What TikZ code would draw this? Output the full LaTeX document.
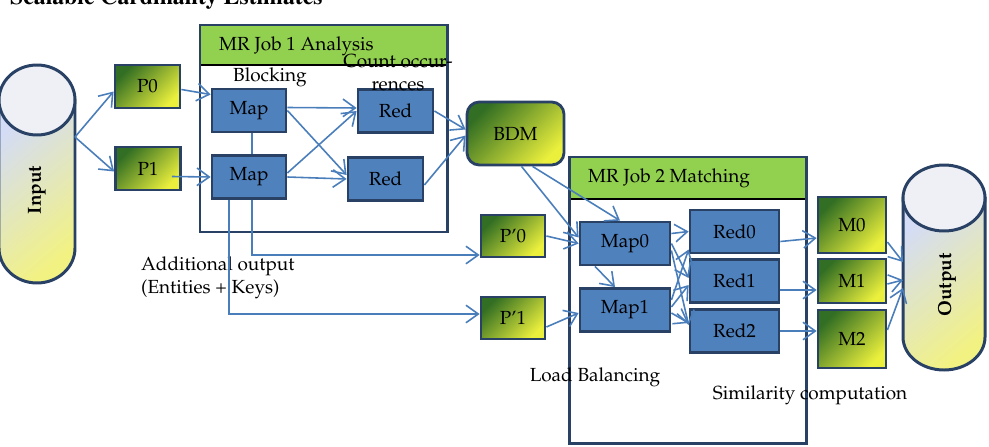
\documentclass[tikz,border=0pt]{standalone}
\usepackage[T1]{fontenc}
\usepackage{mathpazo}
\usetikzlibrary{arrows.meta,calc}

\definecolor{mrblue}{RGB}{79,129,189}
\definecolor{mrborder}{RGB}{40,65,100}
\definecolor{flowblue}{RGB}{74,126,187}
\definecolor{jobgreen}{RGB}{146,208,80}
\definecolor{pdark}{RGB}{50,110,35}
\definecolor{pmid}{RGB}{95,145,45}
\definecolor{plight}{RGB}{235,240,60}
\definecolor{cylbody}{RGB}{212,220,246}
\definecolor{cyltop}{RGB}{238,240,245}
\definecolor{cylyellow}{RGB}{242,242,130}

\tikzset{
  mrbox/.style={draw=mrborder, line width=1.6pt, fill=mrblue, inner sep=0pt,
    minimum width=1.48cm, minimum height=0.86cm},
  partbox/.style={draw=mrborder, line width=1.6pt, inner sep=0pt,
    top color=pdark, middle color=pmid, bottom color=plight, shading angle=45,
    minimum width=1.3cm, minimum height=0.86cm},
  jobframe/.style={draw=mrborder, line width=1.7pt},
  jobhead/.style={fill=jobgreen, draw=black, line width=1pt},
  cylline/.style={draw=mrborder, line width=1.7pt},
  cylfill/.style={top color=cylbody, middle color=cylbody, bottom color=cylyellow, shading angle=40},
  flow/.style={draw=flowblue, line width=0.9pt, -{Straight Barb[length=7pt,width=10pt]}},
  flowline/.style={draw=flowblue, line width=0.9pt},
}

\begin{document}
\begin{tikzpicture}[x=0.02cm, y=0.02cm, font=\fontsize{10.8}{13}\selectfont]
  \useasboundingbox (0,0) rectangle (989,-446);

  % title, cut by the top edge
  \node[anchor=base west, font=\fontfamily{ptm}\bfseries\fontsize{13.5}{16}\selectfont] (title) at (4,-5) {Scalable Cardinality Estimates};

  % input store
  \draw[cylline, cylfill]
    (-1,-100) -- (-1,-248) arc (180:360:38 and 35) -- (75,-100) -- cycle;
  \draw[cylline, fill=cyltop] (37,-100) ellipse (38 and 35);
  \node[rotate=90, font=\bfseries\fontsize{10.8}{13}\selectfont] (input) at (37,-190) {Input};
  \coordinate (inR) at (75,-137);

  % output store
  \draw[cylline, cylfill]
    (903,-198) -- (903,-337) arc (180:360:41 and 33) -- (985,-198) -- cycle;
  \draw[cylline, fill=cyltop] (944,-198) ellipse (41 and 33);
  \node[rotate=90, font=\bfseries\fontsize{10.8}{13}\selectfont] (output) at (947,-285) {Output};
  \coordinate (outA) at (903,-262);
  \coordinate (outB) at (903,-280);
  \coordinate (outC) at (903,-288);

  % job 1
  \draw[jobhead] (200,-25) rectangle (447,-65);
  \draw[jobframe] (200,-25) rectangle (447,-232);
  \node[anchor=west] (job1) at (213,-46) {MR Job 1 Analysis};

  % job 2
  \draw[jobhead] (569,-157) rectangle (806,-199);
  \draw[jobframe] (569,-157) rectangle (806,-443);
  \node[anchor=west] (job2) at (582,-178) {MR Job 2 Matching};

  % partitions
  \node[partbox] (p0) at (147.5,-86.5) {P0};
  \node[partbox] (p1) at (148,-168.5) {P1};
  \node[partbox, rounded corners=7pt, minimum width=1.94cm, minimum height=1.26cm] (bdm) at (515.5,-133.5) {BDM};
  \node[partbox, minimum width=1.28cm, minimum height=0.84cm] (pq0) at (513,-236) {P'0};
  \node[partbox, minimum width=1.28cm, minimum height=0.84cm] (pq1) at (513,-318) {P'1};
  \node[partbox, minimum width=1.36cm, minimum height=1.12cm] (m0) at (852,-225) {M0};
  \node[partbox, minimum width=1.36cm, minimum height=0.88cm] (m1) at (852,-281) {M1};
  \node[partbox, minimum width=1.36cm, minimum height=1.16cm] (m2) at (852,-339) {M2};

  % map and reduce tasks
  \node[mrbox] (mapT) at (249,-110.5) {Map};
  \node[mrbox] (mapB) at (249,-177) {Map};
  \node[mrbox, minimum width=1.5cm] (redT) at (395.5,-111) {Red};
  \node[mrbox, minimum width=1.5cm] (redB) at (385.5,-179) {Red};
  \node[mrbox, minimum width=1.8cm] (map0) at (625,-243.5) {Map0};
  \node[mrbox, minimum width=1.8cm] (map1) at (625,-310) {Map1};
  \node[mrbox, minimum width=1.78cm] (red0) at (734.5,-231.5) {Red0};
  \node[mrbox, minimum width=1.78cm] (red1) at (734.5,-281) {Red1};
  \node[mrbox, minimum width=1.78cm] (red2) at (734.5,-331) {Red2};

  % texts
  \node (blocking) at (270,-77) {Blocking};
  \node[align=center, font=\fontsize{10.8}{13}\selectfont] (count) at (398,-73) {Count occur-\\rences};
  \node[anchor=west, align=left, font=\fontsize{10.8}{13}\selectfont] (extra) at (135,-278) {Additional output\\(Entities + Keys)};
  \node (balance) at (595,-377) {Load Balancing};
  \node (simil) at (810,-395) {Similarity computation};

  % job 1 flows
  \draw[flow] (inR) -- ($(p0.west)+(0,-5)$);
  \draw[flow] (inR) -- ($(p1.west)+(0,-3)$);
  \draw[flow] ($(p0.east)+(0,-3)$) -- ($(mapT.west)+(0,16)$);
  \draw[flow] ($(p1.east)+(-10,-8)$) -- (mapB.west);
  \draw[flow] ($(mapT.east)+(0,3)$) -- ($(redT.west)+(0,3)$);
  \draw[flow] (mapT.east) -- ($(redB.west)+(0,4)$);
  \draw[flow] ($(mapB.east)+(0,4)$) -- (redT.west);
  \draw[flow] (mapB.east) -- (redB.west);
  \draw[flow] (redT.east) -- ($(bdm.west)+(0,4)$);
  \draw[flow] ($(redB.east)+(0,-6)$) -- ($(bdm.west)+(0,-2)$);

  % additional output
  \draw[flowline] ($(mapT.south)+(3,0)$) -- ($(mapB.north)+(3,0)$);
  \draw[flow] ($(mapB.south)+(3,0)$) |- ($(pq0.west)+(0,-19)$);
  \draw[flow] ($(mapB.south)+(-20,0)$) |- ($(pq1.west)+(0,4)$);

  % job 2 flows
  \draw[flow] ($(bdm.south)+(6,0)$) -- ($(map0.west)+(0,6)$);
  \draw[flow] ($(bdm.south)+(17,0)$) -- ($(map0.north)+(-5,0)$);
  \draw[flow] (pq0.east) -- (map0.west);
  \draw[flow] ($(pq1.east)+(0,-9)$) -- ($(map1.west)+(0,-3)$);
  \draw[flow] ($(map0.south)+(-30,0)$) -- ($(map1.north)+(-10,0)$);
  \draw[flow] ($(map0.east)+(0,10)$) -- (red0.west);
  \draw[flow] (map0.east) -- ($(red1.west)+(0,3)$);
  \draw[flow] ($(map0.east)+(0,-7)$) -- ($(red2.west)+(0,6)$);
  \draw[flow] ($(map1.east)+(0,10)$) -- ($(red0.west)+(0,-18)$);
  \draw[flow] ($(map1.east)+(0,3)$) -- ($(red1.west)+(0,-4)$);
  \draw[flow] ($(map1.east)+(0,-3)$) -- ($(red2.west)+(0,8)$);
  \draw[flow] ($(red0.east)+(0,-10)$) -- ($(m0.west)+(0,-13)$);
  \draw[flow] ($(red1.east)+(0,-9)$) -- ($(m1.west)+(0,-9)$);
  \draw[flow] (red2.east) -- ($(m2.west)+(0,8)$);
  \draw[flow] ($(m0.east)+(0,-17)$) -- (outA);
  \draw[flow] ($(m1.east)+(0,-3)$) -- (outB);
  \draw[flow] ($(m2.east)+(0,9)$) -- (outC);
\end{tikzpicture}
\end{document}
